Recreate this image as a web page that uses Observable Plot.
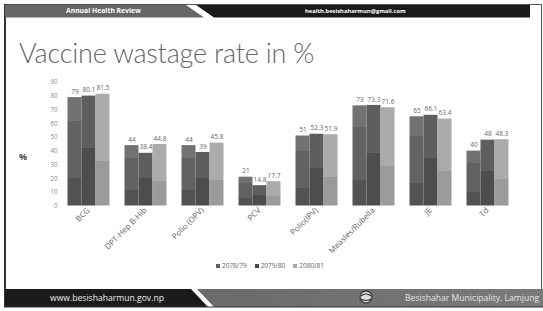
<!DOCTYPE html>
<html>
<head>
<meta charset="utf-8">
<script src="https://cdn.jsdelivr.net/npm/d3@7"></script>
<script src="https://cdn.jsdelivr.net/npm/@observablehq/plot@0.6"></script>
<style>
  html, body { margin: 0; padding: 0; background: #fff; }
  #slide { position: relative; width: 543px; height: 311px; overflow: hidden; background: #fff; font-family: "Open Sans", Lato, sans-serif; }
  #deco { position: absolute; left: 0; top: 0; }
  #title { position: absolute; left: 19px; top: 36px; font-family: Lato, "Open Sans", sans-serif; font-weight: 300; font-size: 27px; color: #666; white-space: nowrap; letter-spacing: -0.2px; }
  #chart { position: absolute; left: 0; top: 70px; }
  #ylab { position: absolute; left: 19px; top: 150px; font-size: 9px; font-weight: bold; color: #444; }
  #legend { position: absolute; top: 261px; left: 0; width: 540px; text-align: center; font-size: 6.5px; color: #666; }
  #legend span.item { margin: 0 4px; white-space: nowrap; }
  #legend span.sw { display: inline-block; width: 4px; height: 4px; margin-right: 2px; vertical-align: middle; }
  .hdr { position: absolute; color: #fff; font-weight: bold; white-space: nowrap; }
</style>
</head>
<body>
<div id="slide">
  <svg id="deco" width="543" height="311">
    <line x1="4" y1="4.5" x2="541" y2="4.5" stroke="#555" stroke-width="1"/>
    <line x1="5" y1="4" x2="5" y2="307" stroke="#333" stroke-width="2"/>
    <line x1="541.5" y1="4" x2="541.5" y2="307" stroke="#555" stroke-width="1"/>
    <polygon points="5,5 186,5 204,17.5 5,17.5" fill="#666"/>
    <polygon points="196,5 530,5 530,17.5 214,17.5" fill="#1a1a1a"/>
    <defs>
      <linearGradient id="fg" x1="0" y1="0" x2="1" y2="0">
        <stop offset="0" stop-color="#6a6a6a"/>
        <stop offset="1" stop-color="#7a7a7a"/>
      </linearGradient>
    </defs>
    <polygon points="197,289 543,289 543,307 214,307" fill="url(#fg)"/>
    <polygon points="5,289 191,289 208,307 5,307" fill="#1a1a1a"/>
    <line x1="4" y1="307" x2="543" y2="307" stroke="#333" stroke-width="1"/>
    <circle cx="366" cy="297" r="6" fill="#ddd" stroke="#444" stroke-width="1.5"/>
    <path d="M361,296 q5,-4 10,0 M361,299 q5,3 10,0" stroke="#333" stroke-width="1.2" fill="none"/>
  </svg>
  <div class="hdr" style="left:66px; top:6px; font-size:6.8px;">Annual Health Review</div>
  <div class="hdr" style="left:305px; top:6.5px; font-size:5.8px;">health.besishaharmun@gmail.com</div>
  <div class="hdr" style="left:50px; top:292px; font-size:8.6px; font-weight:normal; color:#eee;">www.besishaharmun.gov.np</div>
  <div class="hdr" style="left:405px; top:292px; font-size:8.6px; font-weight:normal; color:#e4e4e4;">Besishahar Municipality, Lamjung</div>
  <div id="title">Vaccine wastage rate in %</div>
  <div id="ylab">%</div>
  <div id="chart"></div>
  <div id="legend"></div>
</div>
<script>
const categories = ["BCG", "DPT-Hep B-Hib", "Polio (OPV)", "PCV", "Polio(IPV)", "Measles/Rubella", "JE", "Td"];
const series = ["2078/79", "2079/80", "2080/81"];
const values2078 = [79, 44, 44, 21, 51, 73, 65, 40];
const values2079 = [80.1, 38.4, 39, 14.8, 52.3, 73.3, 66.1, 48];
const values2080 = [81.5, 44.8, 45.8, 17.7, 51.9, 71.6, 63.4, 48.3];
const yTicks = [0, 10, 20, 30, 40, 50, 60, 70, 80, 90];
const legendColors = ["#5e5e5e", "#484848", "#a8a8a8"];

const allValues = [values2078, values2079, values2080];
const data = [];
categories.forEach((c, i) => {
  series.forEach((s, j) => data.push({cat: c, series: s, value: allValues[j][i]}));
});

const chart = Plot.plot({
  width: 543,
  height: 200,
  marginLeft: 59.5,
  marginRight: 27.5,
  marginTop: 12,
  marginBottom: 64.5,
  style: {fontFamily: "'Open Sans', Lato, sans-serif", fontSize: "6.2px", color: "#888", background: "transparent"},
  fx: {domain: categories, paddingInner: 0.23, paddingOuter: 0.115, label: null, tickRotate: -45, tickSize: 0, tickPadding: 3},
  x: {domain: series, padding: 0.02, axis: null},
  y: {domain: [0, 90], ticks: yTicks, tickSize: 0, tickPadding: 9, label: null, tickFormat: d => d},
  color: {domain: series, range: ["url(#g0)", "url(#g1)", "url(#g2)"]},
  marks: [
    Plot.barY(data, {fx: "cat", x: "series", y: "value", fill: "series"}),
    Plot.text(data, {fx: "cat", x: "series", y: "value", text: d => String(d.value), dy: -6, fill: "#666", fontSize: 6.5})
  ]
});

const svg = d3.select(chart);
const defs = svg.insert("defs", ":first-child");
const grads = [
  [[0, "#727272"], [0.22, "#727272"], [0.22, "#626262"], [0.75, "#626262"], [0.75, "#535353"], [1, "#535353"]],
  [[0, "#5e5e5e"], [0.48, "#5e5e5e"], [0.48, "#4d4d4d"], [1, "#4d4d4d"]],
  [[0, "#ababab"], [0.6, "#ababab"], [0.6, "#9b9b9b"], [1, "#9b9b9b"]]
];
grads.forEach((stops, i) => {
  const g = defs.append("linearGradient").attr("id", "g" + i).attr("x1", 0).attr("y1", 0).attr("x2", 0).attr("y2", 1);
  stops.forEach(([o, c]) => g.append("stop").attr("offset", o).attr("stop-color", c));
});
svg.selectAll("[aria-label='fx-axis tick label'], [aria-label='fx-axis']")
  .attr("font-size", "8px").attr("fill", "#666").style("color", "#666");
document.getElementById("chart").appendChild(chart);

const legend = d3.select("#legend");
series.forEach((s, i) => {
  const item = legend.append("span").attr("class", "item");
  item.append("span").attr("class", "sw").style("background", legendColors[i]);
  item.append("span").text(s);
});
</script>
</body>
</html>
